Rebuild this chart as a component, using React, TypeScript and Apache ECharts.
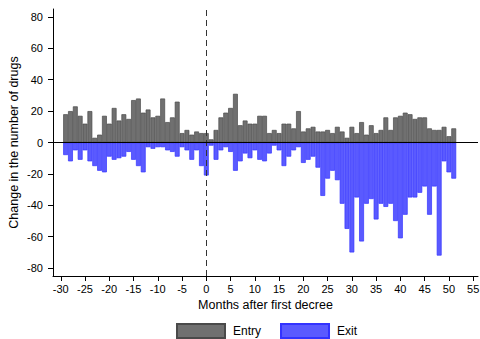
import React, { useEffect, useRef } from "react";
import * as echarts from "echarts";

const months = [
  -29, -28, -27, -26, -25, -24, -23, -22, -21, -20, -19, -18, -17, -16, -15, -14, -13, -12, -11, -10,
  -9, -8, -7, -6, -5, -4, -3, -2, -1, 0, 1, 2, 3, 4, 5, 6, 7, 8, 9, 10,
  11, 12, 13, 14, 15, 16, 17, 18, 19, 20, 21, 22, 23, 24, 25, 26, 27, 28, 29, 30,
  31, 32, 33, 34, 35, 36, 37, 38, 39, 40, 41, 42, 43, 44, 45, 46, 47, 48, 49, 50, 51,
];

const entryValues = [
  18, 20, 23, 17, 12, 20, 3, 5, 17, 12, 22, 14, 18, 15, 27, 28, 19, 21, 16, 17,
  28, 13, 16, 26, 6, 8, 5, 7, 6, 6, 2, 8, 16, 19, 22, 31, 11, 14, 12, 12,
  17, 17, 6, 8, 6, 12, 12, 9, 20, 7, 9, 10, 7, 7, 8, 6, 10, 7, 3, 10,
  6, 13, 5, 11, 6, 8, 16, 8, 16, 17, 19, 18, 15, 16, 16, 9, 8, 8, 10, 4, 9,
];

const exitValues = [
  -8, -12, -5, -11, -5, -12, -15, -18, -19, -9, -11, -10, -9, -6, -11, -15, -19, -3, -4, -3,
  -3, -5, -6, -9, -3, -5, -11, -5, -15, -21, -2, -11, -5, -3, -6, -18, -12, -7, -10, -5,
  -11, -12, -7, -2, -5, -15, -9, -5, -3, -13, -11, -9, -16, -34, -23, -18, -24, -39, -55, -70,
  -35, -63, -39, -36, -49, -39, -41, -39, -50, -61, -46, -35, -35, -32, -28, -46, -28, -72, -12, -19, -23,
];

const xTicks = [-30, -25, -20, -15, -10, -5, 0, 5, 10, 15, 20, 25, 30, 35, 40, 45, 50, 55];
const yTicks = [-80, -60, -40, -20, 0, 20, 40, 60, 80];

const FONT = "'Liberation Sans', Arial, Helvetica, sans-serif";

export default function App() {
  const ref = useRef<HTMLDivElement>(null);

  useEffect(() => {
    if (!ref.current) return;
    const chart = echarts.init(ref.current, undefined, { renderer: "svg" });
    const option: any = {
      animation: false,
      backgroundColor: "#ffffff",
      textStyle: { fontFamily: FONT, color: "#000" },
      grid: { left: 53, top: 9, width: 425, height: 267, containLabel: false, outerBoundsMode: "none" },
      legend: {
        data: ["Entry", "Exit"],
        left: 176,
        top: 323,
        padding: 0,
        itemWidth: 48,
        itemHeight: 14,
        itemGap: 19,
        icon: "rect",
        textStyle: { fontSize: 12, color: "#000", fontFamily: FONT, padding: [0, 0, 0, 3] },
      },
      xAxis: {
        type: "value",
        min: -31.6,
        max: 56,
        name: "Months after first decree",
        nameLocation: "middle",
        nameGap: 18,
        nameTextStyle: { fontSize: 12.5, color: "#000", fontFamily: FONT },
        axisLine: { show: true, onZero: false, lineStyle: { color: "#000", width: 1 } },
        axisTick: { show: true, customValues: xTicks, length: 5, lineStyle: { color: "#000" } },
        axisLabel: { customValues: xTicks, fontSize: 11, color: "#000", margin: 7, fontFamily: FONT },
        splitLine: { show: false },
      },
      yAxis: {
        type: "value",
        min: -85,
        max: 85,
        name: "Change in the number of drugs",
        nameLocation: "middle",
        nameGap: 33,
        nameMoveOverlap: false,
        nameTextStyle: { fontSize: 12.5, color: "#000", fontFamily: FONT },
        axisLine: { show: true, onZero: false, lineStyle: { color: "#000", width: 1 } },
        axisTick: { show: true, customValues: yTicks, length: 5, lineStyle: { color: "#000" } },
        axisLabel: { customValues: yTicks, fontSize: 11, color: "#000", margin: 10, fontFamily: FONT },
        splitLine: { show: false },
      },
      series: [
        {
          name: "Entry",
          type: "bar",
          stack: "total",
          barWidth: 4.85,
          data: months.map((m, i) => [m, entryValues[i]]),
          itemStyle: { color: "#707070", borderColor: "#4a4a4a", borderWidth: 0.7 },
          markLine: {
            silent: true,
            symbol: ["none", "none"],
            label: { show: false },
            data: [
              { xAxis: 0, lineStyle: { type: [6, 4], color: "#333", width: 1 } },
              { yAxis: 0, lineStyle: { type: "solid", color: "#000", width: 1 } },
            ],
          },
        },
        {
          name: "Exit",
          type: "bar",
          stack: "total",
          barWidth: 4.85,
          data: months.map((m, i) => [m, exitValues[i]]),
          itemStyle: { color: "#5a5aff", borderColor: "#3333ff", borderWidth: 0.7 },
        },
      ],
    };
    chart.setOption(option);
    return () => chart.dispose();
  }, []);

  return (
    <div
      ref={ref}
      style={{ position: "fixed", left: 0, top: 0, width: 480, height: 339, background: "#fff" }}
    />
  );
}
